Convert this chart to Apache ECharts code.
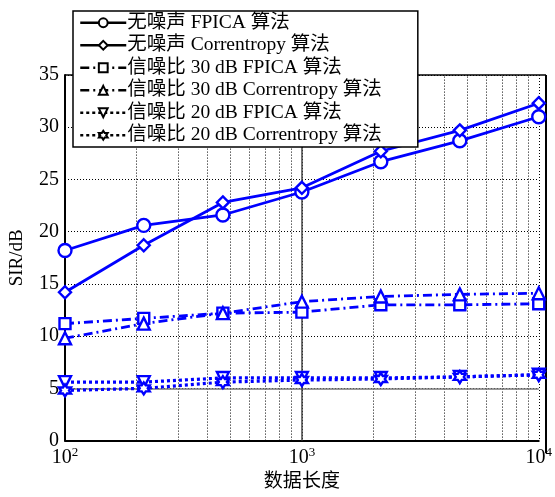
<!DOCTYPE html>
<html>
<head>
<meta charset="utf-8">
<script src="https://cdn.jsdelivr.net/npm/echarts@6/dist/echarts.min.js"></script>
<style>
html, body { margin: 0; padding: 0; background: #fff; }
#chart { width: 555px; height: 497px; }
</style>
</head>
<body>
<div id="chart"></div>
<script>
// data lengths (x axis, log scale)
var dataLength = [100, 215, 464, 1000, 2154, 4642, 10000]

var seriesNames = [
    '无噪声 FPICA 算法',
    '无噪声 Correntropy 算法',
    '信噪比 30 dB FPICA 算法',
    '信噪比 30 dB Correntropy 算法',
    '信噪比 20 dB FPICA 算法',
    '信噪比 20 dB Correntropy 算法'
]

var cleanFpica = [18.2, 20.6, 21.6, 23.8, 26.7, 28.7, 31.0]
var cleanCorr = [14.2, 18.7, 22.8, 24.2, 27.7, 29.7, 32.3]
var snr30Fpica = [11.2, 11.7, 12.2, 12.3, 13.0, 13.0, 13.1]
var snr30Corr = [9.8, 11.2, 12.2, 13.3, 13.8, 14.0, 14.1]
var snr20Fpica = [5.6, 5.6, 6.0, 6.0, 6.0, 6.1, 6.3]
var snr20Corr = [4.8, 5.0, 5.6, 5.8, 5.9, 6.1, 6.3]

var yTicks = { min: 0, max: 35, interval: 5 }
var minorX = [200, 300, 400, 500, 600, 700, 800, 900, 2000, 3000, 4000, 5000, 6000, 7000, 8000, 9000]

var blue = '#0000ff'
var serif = '"Liberation Serif", "Times New Roman", "Noto Sans CJK SC", serif'
var hexagram = 'path://M0,-10L2.9,-5L8.7,-5L5.8,0L8.7,5L2.9,5L0,10L-2.9,5L-8.7,5L-5.8,0L-8.7,-5L-2.9,-5Z'
var triDown = 'path://M-10,-8L10,-8L0,9Z'

function pairs(ys) {
    var out = []
    for (var i = 0; i < ys.length; i++) out.push([dataLength[i], ys[i]])
    return out
}

function makeSeries(name, ys, symbol, size, dash, width) {
    return {
        name: name,
        type: 'line',
        data: pairs(ys),
        symbol: symbol,
        symbolSize: size,
        z: 5,
        lineStyle: { color: blue, width: width, type: dash },
        itemStyle: { color: '#fff', borderColor: blue, borderWidth: 2.4 }
    }
}

var dashDot = [9, 4, 2, 4]
var dotted = [3, 3]

window.onload = function() {
    var chart = echarts.init(document.getElementById('chart'))

    var series = [
        makeSeries(seriesNames[0], cleanFpica, 'circle', 13, 'solid', 2.8),
        makeSeries(seriesNames[1], cleanCorr, 'diamond', 12, 'solid', 2.8),
        makeSeries(seriesNames[2], snr30Fpica, 'rect', 11, dashDot, 2.8),
        makeSeries(seriesNames[3], snr30Corr, 'triangle', 12, dashDot, 2.8),
        makeSeries(seriesNames[4], snr20Fpica, triDown, 12, dotted, 3.2),
        makeSeries(seriesNames[5], snr20Corr, hexagram, 12, dotted, 3.2)
    ]

    // extra grid lines (log minor grid + the solid lines at 5 and 10^3)
    var gridLines = []
    for (var i = 0; i < minorX.length; i++) {
        gridLines.push({ xAxis: minorX[i] })
    }
    series.push({
        name: 'grid',
        type: 'line',
        data: [],
        silent: true,
        z: 1,
        markLine: {
            silent: true,
            symbol: 'none',
            label: { show: false },
            animation: false,
            lineStyle: { color: '#000', type: [1, 2], width: 1 },
            data: gridLines.concat([
                { yAxis: 5, lineStyle: { color: '#777', type: 'solid', width: 1.5 } },
                { xAxis: 1000, lineStyle: { color: '#444', type: 'solid', width: 1.5 } }
            ])
        }
    })

    var option = {
        animation: false,
        backgroundColor: '#fff',
        grid: { left: 65, right: 9, top: 75, bottom: 44 },
        legend: {
            data: seriesNames,
            orient: 'vertical',
            left: 73,
            top: 11,
            padding: [2, 36, 2, 6],
            itemWidth: 46,
            itemHeight: 11,
            itemGap: 3,
            backgroundColor: '#fff',
            borderColor: '#000',
            borderWidth: 1.5,
            borderRadius: 0,
            z: 10,
            lineStyle: { color: '#000', width: 2.5 },
            itemStyle: { color: '#fff', borderColor: '#000', borderWidth: 2 },
            textStyle: { fontFamily: serif, fontSize: 19.5, color: '#000', padding: [0, 0, 0, -4] }
        },
        xAxis: {
            type: 'log',
            logBase: 10,
            min: 100,
            max: 10000,
            name: '数据长度',
            nameLocation: 'middle',
            nameGap: 28,
            nameTextStyle: { fontFamily: serif, fontSize: 19, color: '#000' },
            axisLine: { show: true, onZero: false, lineStyle: { color: '#000', width: 2 } },
            axisTick: { show: false },
            axisLabel: {
                margin: 5,
                color: '#000',
                fontFamily: serif,
                fontSize: 20,
                formatter: function(v) {
                    var e = Math.round(Math.log(v) / Math.LN10)
                    return '10{s|' + e + '}'
                },
                rich: {
                    s: { fontSize: 13, fontFamily: serif, color: '#000', padding: [0, 0, 12, 0] }
                }
            },
            splitLine: { show: true, lineStyle: { color: '#000', type: [1, 2], width: 1 } }
        },
        yAxis: {
            type: 'value',
            min: yTicks.min,
            max: yTicks.max,
            interval: yTicks.interval,
            name: 'SIR/dB',
            nameLocation: 'middle',
            nameGap: 38,
            nameTextStyle: { fontFamily: serif, fontSize: 19, color: '#000' },
            axisLine: { show: true, lineStyle: { color: '#000', width: 2 } },
            axisTick: { show: false },
            axisLabel: { color: '#000', fontFamily: serif, fontSize: 20, margin: 6 },
            splitLine: { show: true, lineStyle: { color: '#000', type: [1, 2], width: 1 } }
        },
        series: series
    }

    chart.setOption(option)

    // box: top and right borders
    chart.setOption({
        graphic: [
            { type: 'line', shape: { x1: 65, y1: 75, x2: 546, y2: 75 }, style: { stroke: '#000', lineWidth: 1.5 }, z: 0 },
            { type: 'line', shape: { x1: 546, y1: 75, x2: 546, y2: 453 }, style: { stroke: '#000', lineWidth: 2 }, z: 0 }
        ]
    })
}
</script>
</body>
</html>
